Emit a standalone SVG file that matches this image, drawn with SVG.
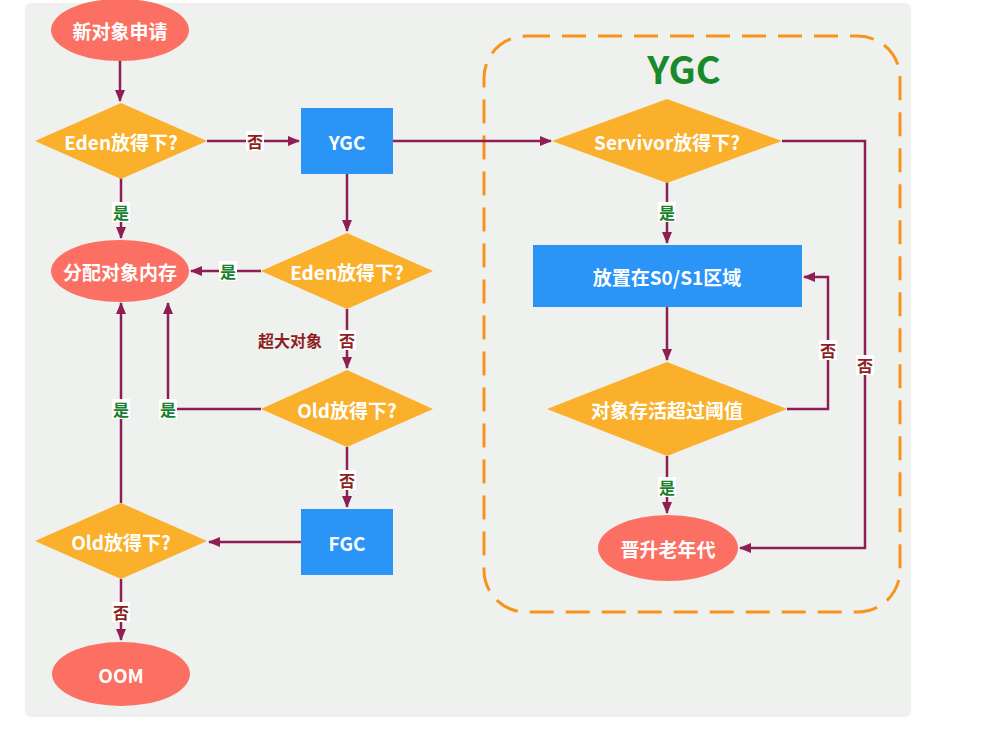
<svg xmlns="http://www.w3.org/2000/svg" width="1003" height="747" viewBox="0 0 1003 747">
<defs>
<marker id="ah" markerUnits="userSpaceOnUse" markerWidth="12" markerHeight="10" refX="11" refY="5" orient="auto">
<path d="M0,0 L12,5 L0,10 Z" fill="#8e1f55"/>
</marker>
<style>
.ell{fill:#fb7063}
.dia{fill:#fbb02b}
.box{fill:#2b95f7}
.nt{font-family:"Noto Sans CJK SC","Liberation Sans",sans-serif;font-weight:bold;font-size:19px;fill:#ffffff;text-anchor:middle;dominant-baseline:central}
.ln{fill:none;stroke:#8e1f55;stroke-width:2.5}
.lb{font-family:"Noto Sans CJK SC",sans-serif;font-weight:bold;font-size:16px;text-anchor:middle;dominant-baseline:central}
.yes{fill:#17802a}
.no{fill:#8e1f1f}
.bg{fill:#ffffff}
</style>
</defs>
<rect width="1003" height="747" fill="#ffffff"/>
<rect x="25" y="3" width="886" height="714" rx="6" fill="#eff1ef"/>

<g id="ygc-region">
<rect x="484" y="36" width="416" height="576" rx="42" fill="none" stroke="#f7941d" stroke-width="3" stroke-dasharray="24 12"/>
<text x="684" y="67" font-family="'Noto Sans CJK SC','Liberation Sans',sans-serif" font-weight="bold" font-size="38" fill="#188a2a" text-anchor="middle" dominant-baseline="central">YGC</text>
</g>

<g id="connectors">
<path class="ln" d="M120,61 V101" marker-end="url(#ah)"/>
<path class="ln" d="M207,141 H299" marker-end="url(#ah)"/>
<path class="ln" d="M121,178 V238" marker-end="url(#ah)"/>
<path class="ln" d="M393,141 H551" marker-end="url(#ah)"/>
<path class="ln" d="M347,174 V231" marker-end="url(#ah)"/>
<path class="ln" d="M261,271 H191" marker-end="url(#ah)"/>
<path class="ln" d="M347,309 V368" marker-end="url(#ah)"/>
<path class="ln" d="M261,409 H168 V303" marker-end="url(#ah)"/>
<path class="ln" d="M347,447 V507" marker-end="url(#ah)"/>
<path class="ln" d="M301,542 H209" marker-end="url(#ah)"/>
<path class="ln" d="M121,503 V303" marker-end="url(#ah)"/>
<path class="ln" d="M121,579 V640" marker-end="url(#ah)"/>
<path class="ln" d="M782,141 H865 V548 H740" marker-end="url(#ah)"/>
<path class="ln" d="M667,182 V243" marker-end="url(#ah)"/>
<path class="ln" d="M667,307 V360" marker-end="url(#ah)"/>
<path class="ln" d="M787,409 H828 V277 H804" marker-end="url(#ah)"/>
<path class="ln" d="M667,456 V513" marker-end="url(#ah)"/>

<rect class="bg" x="246" y="131" width="18" height="20"/><text class="lb no" x="255" y="141">否</text>
<rect class="bg" x="112" y="202" width="18" height="20"/><text class="lb yes" x="121" y="212">是</text>
<rect class="bg" x="219" y="261" width="18" height="20"/><text class="lb yes" x="228" y="271">是</text>
<text class="lb no" x="290" y="340">超大对象</text>
<rect class="bg" x="338" y="330" width="18" height="20"/><text class="lb no" x="347" y="340">否</text>
<rect class="bg" x="159" y="399" width="18" height="20"/><text class="lb yes" x="168" y="409">是</text>
<rect class="bg" x="112" y="399" width="18" height="20"/><text class="lb yes" x="121" y="409">是</text>
<rect class="bg" x="338" y="470" width="18" height="20"/><text class="lb no" x="347" y="480">否</text>
<rect class="bg" x="112" y="602" width="18" height="20"/><text class="lb no" x="121" y="612">否</text>
<rect class="bg" x="658" y="202" width="18" height="20"/><text class="lb yes" x="667" y="212">是</text>
<rect class="bg" x="819" y="340" width="18" height="20"/><text class="lb no" x="828" y="350">否</text>
<rect class="bg" x="856" y="355" width="18" height="20"/><text class="lb no" x="865" y="365">否</text>
<rect class="bg" x="658" y="477" width="18" height="20"/><text class="lb yes" x="667" y="487">是</text>
</g>

<g id="n-new">
<ellipse class="ell" cx="120" cy="30" rx="69" ry="31"/>
<text class="nt" x="120" y="30">新对象申请</text>
</g>
<g id="n-eden1">
<polygon class="dia" points="35,141 121,103 207,141 121,179"/>
<text class="nt" x="121" y="141">Eden放得下?</text>
</g>
<g id="n-ygc">
<rect class="box" x="301" y="108" width="92" height="66"/>
<text class="nt" x="347" y="141">YGC</text>
</g>
<g id="n-alloc">
<ellipse class="ell" cx="120" cy="271" rx="69" ry="31"/>
<text class="nt" x="120" y="271">分配对象内存</text>
</g>
<g id="n-eden2">
<polygon class="dia" points="261,271 347,233 433,271 347,309"/>
<text class="nt" x="347" y="271">Eden放得下?</text>
</g>
<g id="n-old1">
<polygon class="dia" points="261,409 347,370 433,409 347,447"/>
<text class="nt" x="347" y="409">Old放得下?</text>
</g>
<g id="n-fgc">
<rect class="box" x="301" y="509" width="92" height="66"/>
<text class="nt" x="347" y="542">FGC</text>
</g>
<g id="n-old2">
<polygon class="dia" points="35,541 121,503 207,541 121,579"/>
<text class="nt" x="121" y="541">Old放得下?</text>
</g>
<g id="n-oom">
<ellipse class="ell" cx="121" cy="674" rx="69" ry="32"/>
<text class="nt" x="121" y="674">OOM</text>
</g>
<g id="n-surv">
<polygon class="dia" points="552,141 667,99 782,141 667,183"/>
<text class="nt" x="667" y="141">Servivor放得下?</text>
</g>
<g id="n-s0s1">
<rect class="box" x="533" y="245" width="269" height="62"/>
<text class="nt" x="667" y="276">放置在S0/S1区域</text>
</g>
<g id="n-age">
<polygon class="dia" points="547,409 667,362 787,409 667,456"/>
<text class="nt" x="667" y="409">对象存活超过阈值</text>
</g>
<g id="n-promote">
<ellipse class="ell" cx="668" cy="548" rx="70" ry="33"/>
<text class="nt" x="668" y="548">晋升老年代</text>
</g>
</svg>
